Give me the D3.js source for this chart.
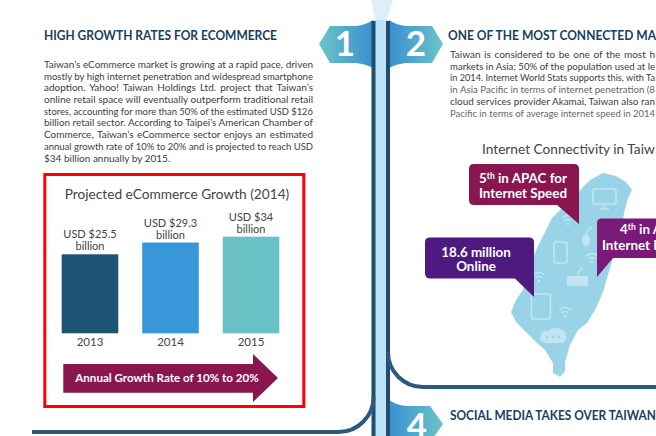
<!DOCTYPE html>
<html>
<head>
<meta charset="utf-8">
<script src="https://cdn.jsdelivr.net/npm/d3@7"></script>
<style>
  html, body { margin: 0; padding: 0; background: #fff; }
  svg { display: block; }
  text { font-family: Lato, "Noto Sans", sans-serif; }
</style>
</head>
<body>
<div id="chart"></div>
<script>
// 1: DATA
const years = ["2013", "2014", "2015"];
// bar heights as drawn in the picture: the 2015 bar is shorter than its label says
const barValues = [25.5, 29.3, 31.2];
const barColors = ["#1d5375", "#3897d8", "#69c1c5"];
const barLabels = [["USD $25.5", "billion"], ["USD $29.3", "billion"], ["USD $34", "billion"]];
const chartTitle = "Projected eCommerce Growth (2014)";
const arrowLabel = "Annual Growth Rate of 10% to 20%";

const leftHeading = "HIGH GROWTH RATES FOR ECOMMERCE";
const leftBody = [
    "Taiwan’s eCommerce market is growing at a rapid pace, driven",
    "mostly by high internet penetration and widespread smartphone",
    "adoption. Yahoo! Taiwan Holdings Ltd. project that Taiwan’s",
    "online retail space will eventually outperform traditional retail",
    "stores, accounting for more than 50% of the estimated USD $126",
    "billion retail sector. According to Taipei’s American Chamber of",
    "Commerce, Taiwan’s eCommerce sector enjoys an estimated",
    "annual growth rate of 10% to 20% and is projected to reach USD",
    "$34 billion annually by 2015."
];
const rightHeading = "ONE OF THE MOST CONNECTED MA";
const rightBody = [
    "Taiwan is considered to be one of the most h",
    "markets in Asia; 50% of the population used at le",
    "in 2014. Internet World Stats supports this, with Ta",
    "in Asia Pacific in terms of internet penetration (8",
    "cloud services provider Akamai, Taiwan also ran",
    "Pacific in terms of average internet speed in 2014"
];
const mapTitle = "Internet Connectivity in Taiw";
const bottomHeading = "SOCIAL MEDIA TAKES OVER TAIWAN";

const W = 656, H = 436;
const svg = d3.select("#chart").append("svg").attr("width", W).attr("height", H);
const defs = svg.append("defs");

function gradient(id, from, to) {
    const g = defs.append("linearGradient").attr("id", id);
    g.append("stop").attr("offset", "0%").attr("stop-color", from);
    g.append("stop").attr("offset", "100%").attr("stop-color", to);
}
gradient("tealBlue", "#6cc4c7", "#3a8fd0");
gradient("blueTeal", "#3a8fd0", "#6cc4c7");

// 2: SPINE AND NUMBER TABS
const navy = "#2b5a7f";
svg.append("path").attr("d", "M371,0 L393,0 L386,22 L376,22 Z").attr("fill", "#dceffa");
svg.append("rect").attr("x", 375).attr("y", 20).attr("width", 12).attr("height", H - 20).attr("fill", "#bde3f7");

svg.append("path").attr("fill", "url(#tealBlue)")
    .attr("d", "M319,44 L330,26 L356,26 Q366,25 373,20 L373,68 Q366,64 356,63 L330,63 Z");
svg.append("path").attr("fill", "url(#blueTeal)")
    .attr("d", "M389,20 Q396,25 406,26 L432,26 L443,44 L432,63 L406,63 Q396,64 389,68 Z");
svg.append("path").attr("fill", "url(#blueTeal)")
    .attr("d", "M389,400 Q396,405 406,406 L430,406 L443,424 L430,443 L389,443 Z");

svg.append("path").attr("fill", "none").attr("stroke", "#1f4e70").attr("stroke-width", 4)
    .attr("d", "M373.5,21 L373.5,436");
svg.append("path").attr("fill", "none").attr("stroke", "#1f4e70").attr("stroke-width", 4)
    .attr("d", "M388,21 L388,436");
svg.append("path").attr("fill", "none").attr("stroke", navy).attr("stroke-width", 4)
    .attr("d", "M373.5,397 A35,35 0 0 1 338.5,432 L32,432");
svg.append("path").attr("fill", "none").attr("stroke", navy).attr("stroke-width", 4)
    .attr("d", "M388,352 A35,35 0 0 0 423,387 L656,387");

[["1", 345, 56], ["2", 416, 56], ["4", 417, 438]].forEach(([n, x, y]) => {
    svg.append("text").attr("x", x).attr("y", y).attr("text-anchor", "middle")
        .attr("font-size", 35).attr("font-weight", 700).attr("fill", "#fff").text(n);
});

// 3: HEADINGS AND BODY TEXT
function heading(str, x, y, width) {
    svg.append("text").attr("x", x).attr("y", y).attr("font-size", 14).attr("font-weight", 700)
        .attr("fill", "#17405f").attr("textLength", width).attr("lengthAdjust", "spacingAndGlyphs").text(str);
}
heading(leftHeading, 44, 40, 233);
heading(rightHeading, 448, 40, 208);
heading(bottomHeading, 450, 420, 206);

// stretch the word gaps so a line fills its width, or squeeze the glyphs if it is too long
function bodyLine(str, x, y, width, color) {
    const t = svg.append("text").attr("x", x).attr("y", y).attr("font-size", 10)
        .attr("fill", color).text(str);
    if (width) {
        const gaps = str.split(" ").length - 1;
        const extra = (width - t.node().getComputedTextLength()) / gaps;
        if (extra > 0) t.attr("word-spacing", extra);
        else t.attr("textLength", width).attr("lengthAdjust", "spacingAndGlyphs");
    }
}
const leftY = [67.5, 79.5, 91, 103, 114.5, 126, 138, 149.5, 161.5];
leftBody.forEach((s, i) => bodyLine(s, 44, leftY[i], i < leftBody.length - 1 ? 269 : 0, "#3d3d3d"));
const rightY = [57.5, 69.5, 81, 93, 104.5, 116.5];
const rightCol = ["#3d3d3d", "#3d3d3d", "#3d3d3d", "#5d6670", "#3d3d3d", "#5d6670"];
rightBody.forEach((s, i) => bodyLine(s, 450, rightY[i], 205, rightCol[i]));

// 4: BAR CHART
svg.append("rect").attr("x", 44.8).attr("y", 174.5).attr("width", 259).attr("height", 232)
    .attr("fill", "#fff").attr("stroke", "#f00").attr("stroke-width", 3);

svg.append("text").attr("x", 177).attr("y", 198.5).attr("text-anchor", "middle")
    .attr("font-size", 13.7).attr("fill", "#444").text(chartTitle);

const xScale = d3.scaleBand().domain(years).range([61.7, 279.3]).paddingInner(0.297);
const yScale = d3.scaleLinear().domain([0, 25.5]).range([333.3, 254.3]);

const bars = years.map((y, i) => ({ year: y, value: barValues[i], color: barColors[i], label: barLabels[i] }));

svg.selectAll(".bar").data(bars).enter().append("rect")
    .attr("class", "bar")
    .attr("x", d => xScale(d.year))
    .attr("y", d => yScale(d.value))
    .attr("width", xScale.bandwidth())
    .attr("height", d => yScale(0) - yScale(d.value))
    .attr("fill", d => d.color);

const valueLabels = svg.selectAll(".value").data(bars).enter().append("text")
    .attr("class", "value")
    .attr("text-anchor", "middle")
    .attr("font-size", 11)
    .attr("fill", "#444");
valueLabels.selectAll("tspan").data(d => d.label.map((s, i) => ({ s, i, d }))).enter().append("tspan")
    .attr("x", e => xScale(e.d.year) + xScale.bandwidth() / 2)
    .attr("y", e => yScale(e.d.value) - 16 + e.i * 12)
    .text(e => e.s);

const xAxis = svg.append("g").attr("transform", "translate(0,333.3)")
    .call(d3.axisBottom(xScale).tickSize(0).tickPadding(5));
xAxis.select(".domain").remove();
xAxis.selectAll("text").style("font-family", "Lato, sans-serif").attr("font-size", 11.5).attr("fill", "#444");

svg.append("path").attr("fill", "#8a164f")
    .attr("d", "M63.3,364 L253,364 L253,354 L278,378 L253,402 L253,392.7 L63.3,392.7 Z");
svg.append("text").attr("x", 167).attr("y", 382).attr("text-anchor", "middle")
    .attr("font-size", 11.6).attr("font-weight", 700).attr("fill", "#fff").text(arrowLabel);

// 5: MAP AND CALLOUTS
svg.append("text").attr("x", 482).attr("y", 154).attr("font-size", 13.7).attr("fill", "#444").text(mapTitle);

svg.append("path").attr("fill", "#99d3e8")
    .attr("d", "M603,173 L616,176 L626,182 L632,190 L628,198 L624,213 L622,228 L618,245 L613,258 L607,278 L603,292 L596,308 L587,323 L578,330 L570,345 L565,362 L565,371 L560,377 L553,373 L553,363 L545,350 L536,342 L527,333 L516,322 L511,312 L516,300 L523,290 L528,270 L537,248 L545,232 L552,218 L560,210 L575,195 L590,180 Z");

// device icons on the map, pale outlines
const icon = svg.append("g").attr("fill", "none").attr("stroke", "#c3e5f1").attr("stroke-width", 1.6);
icon.append("rect").attr("x", 593).attr("y", 189).attr("width", 23).attr("height", 15).attr("rx", 1.5);
icon.append("path").attr("d", "M600,209 L609,209 M604.5,204 L604.5,209");
icon.append("rect").attr("x", 554).attr("y", 242).attr("width", 13).attr("height", 21).attr("rx", 2);
icon.append("rect").attr("x", 531.5).attr("y", 294).attr("width", 19).attr("height", 25).attr("rx", 2);
svg.append("rect").attr("x", 567).attr("y", 276).attr("width", 21).attr("height", 10).attr("rx", 1).attr("fill", "#c3e5f1");
icon.append("path").attr("d", "M578,275 Q579,270 583,268");
svg.append("ellipse").attr("cx", 586).attr("cy", 240).attr("rx", 4).attr("ry", 6).attr("fill", "#c3e5f1");
icon.append("path").attr("d", "M586,234 Q588,229 592,227");
[[568, 224], [592, 262], [539, 281], [565, 316]].forEach(([x, y]) => {
    icon.append("path").attr("d", `M${x - 6},${y - 6} Q${x},${y - 11} ${x + 6},${y - 6} M${x - 3.5},${y - 3} Q${x},${y - 6} ${x + 3.5},${y - 3}`);
    svg.append("circle").attr("cx", x).attr("cy", y).attr("r", 1.3).attr("fill", "#c3e5f1");
});
svg.append("path").attr("fill", "#c3e5f1")
    .attr("d", "M546,343 Q538,342 541,334 Q545,329 549,331 Q553,325 560,329 Q568,331 566,338 Q566,343 560,343 Z");
[547, 553, 559].forEach(x => svg.append("circle").attr("cx", x).attr("cy", 337).attr("r", 1.3).attr("fill", "#99d3e8"));

svg.append("path").attr("fill", "#8a164f")
    .attr("d", "M474,164 L574,164 Q579,164 579,169 L579,224 L557,205 L474,205 Q469,205 469,200 L469,169 Q469,164 474,164 Z");
svg.append("path").attr("fill", "#4f1a7f")
    .attr("d", "M430,237.5 L529,237.5 Q534,237.5 534,242 L534,297 L515,278.5 L430,278.5 Q425,278.5 425,273 L425,242 Q425,237.5 430,237.5 Z");
svg.append("path").attr("fill", "#7a1a78")
    .attr("d", "M602,218.5 L656,218.5 L656,258 L613,258 L597,277 L597,223 Q597,218.5 602,218.5 Z");

function calloutLine(x, y, anchor, parts) {
    const t = svg.append("text").attr("x", x).attr("y", y).attr("text-anchor", anchor)
        .attr("font-size", 13.4).attr("font-weight", 700).attr("fill", "#fff");
    parts.forEach(p => {
        const s = t.append("tspan").text(p.s);
        if (p.sup) s.attr("font-size", 8.5).attr("dy", -4);
        if (p.down) s.attr("dy", 4);
    });
}
calloutLine(523, 183, "middle", [{ s: "5" }, { s: "th", sup: true }, { s: " in APAC for", down: true }]);
calloutLine(523, 198, "middle", [{ s: "Internet Speed" }]);
calloutLine(476, 257, "middle", [{ s: "18.6 million" }]);
calloutLine(476, 271, "middle", [{ s: "Online" }]);
calloutLine(620, 234, "start", [{ s: "4" }, { s: "th", sup: true }, { s: " in A", down: true }]);
calloutLine(602, 250, "start", [{ s: "Internet P" }]);
</script>
</body>
</html>
